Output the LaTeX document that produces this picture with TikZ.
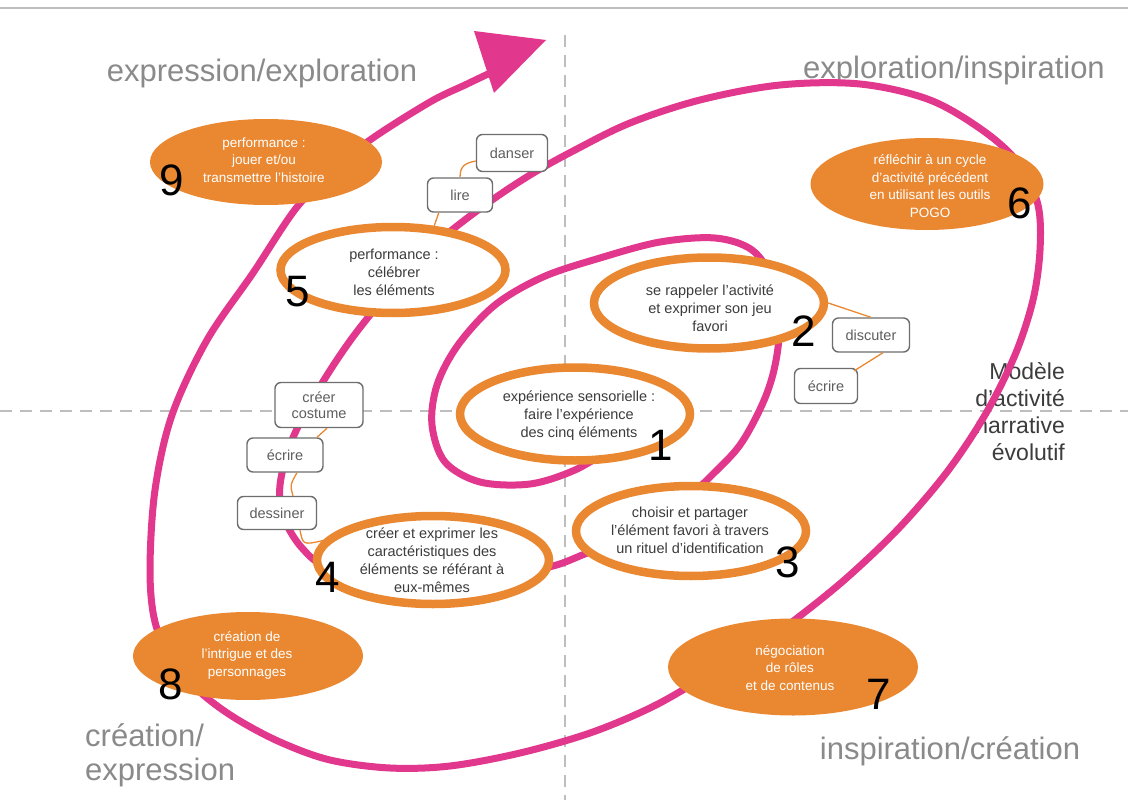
\documentclass[tikz,border=0pt]{standalone}
\usepackage{fontspec}
\setmainfont{Liberation Sans}
\usetikzlibrary{shapes.geometric,calc}
\definecolor{ora}{RGB}{234,136,50}
\definecolor{pnk}{RGB}{225,55,140}
\definecolor{axisg}{RGB}{190,190,190}
\definecolor{labg}{RGB}{138,138,138}
\definecolor{txtg}{RGB}{60,60,60}
\definecolor{boxg}{RGB}{110,110,110}
\tikzset{
 oell/.style={ellipse, draw=ora, line width=8.5pt, fill=white, inner sep=0pt},
 fell/.style={ellipse, fill=ora, inner sep=0pt},
 etext/.style={align=center, text=txtg, font=\fontsize{14.5}{18}\selectfont, inner sep=0pt},
 ftext/.style={align=center, text=white, font=\fontsize{13.5}{17.5}\selectfont, inner sep=0pt},
 tagbox/.style={draw=boxg, line width=1.4pt, rounded corners=6pt, fill=white, align=center, text=boxg!85!black, font=\fontsize{14.5}{15.5}\selectfont, inner sep=0pt},
 oline/.style={draw=ora, line width=1.3pt},
 spiral/.style={draw=pnk, line width=7pt, line cap=round, line join=round},
 quad/.style={text=labg, font=\fontsize{31}{34}\selectfont, inner sep=0pt},
 num/.style={text=black, font=\fontsize{44}{44}\selectfont, inner sep=0pt},
 axisline/.style={draw=axisg, line width=1.5pt, dash pattern=on 12pt off 8pt},
}
\begin{document}
\begin{tikzpicture}[x=1pt,y=-1pt]
\fill[white] (0,0) rectangle (1128,800);
\useasboundingbox (0,0) rectangle (1128,800);
\draw[draw=axisg, line width=1.5pt] (0,8) -- (1128,8);
\draw[axisline] (565,35) -- (565,800);
\draw[axisline] (0,411) -- (1128,411);

\node[align=right, anchor=east, text=txtg, font=\fontsize{23}{27}\selectfont, inner sep=0pt] (model) at (1065,412) {Modèle\\d'activité\\narrative\\évolutif};

\node[quad] (q1) at (262,73) {expression/exploration};
\node[quad] (q2) at (954,70) {exploration/inspiration};
\node[quad, align=left, anchor=west] (q3) at (85,755) {création/\\expression};
\node[quad] (q4) at (950,751) {inspiration/création};

\draw[spiral] plot[smooth, tension=0.55] coordinates {
(612,448) (575,470) (530,484) (480,482) (445,462) (432,425) (437,385) (458,345)
(495,305) (543,277) (600,258) (660,242) (715,238) (752,250) (772,280) (779,330)
(774,370) (762,405) (740,445) (712,475) (680,505) (640,535) (590,552) (553,566)
(500,575) (400,578) (330,568) (302,548) (284,518) (280,485) (292,440) (318,390)
(345,348) (370,315) (400,280) (440,240) (485,205) (530,175) (575,150) (630,123)
(700,100) (780,85) (860,84) (930,100) (985,132) (1020,165) (1038,205) (1040,250)
(1033,300) (1015,355) (985,415) (947,472) (900,527) (850,575) (805,612) (760,645)
(700,680) (650,708) (590,733) (520,753) (450,766) (390,768) (330,760) (280,742)
(235,718) (200,692) (172,660) (155,622) (150,570) (155,490) (172,415) (207,340)
(253,273) (297,207) (335,170) (370,140) (430,102) (465,85) (488,74)};
\fill[pnk] (474,31) -- (546,40) -- (494,93) -- cycle;

\node[oell, minimum width=230pt, minimum height=93pt] (e1) at (575,414) {};
\node[etext] at (579,416) {expérience sensorielle :\\faire l'expérience\\des cinq éléments};
\node[oell, minimum width=230pt, minimum height=91pt] (e2) at (709,303) {};
\node[etext] at (710,308) {se rappeler l'activité\\et exprimer son jeu\\favori};
\node[oell, minimum width=230pt, minimum height=90pt] (e3) at (691,531) {};
\node[etext] at (690,530) {choisir et partager\\l'élément favori à travers\\un rituel d'identification};
\node[oell, minimum width=232pt, minimum height=88pt] (e4) at (433,560) {};
\node[etext] at (432,560) {créer et exprimer les\\caractéristiques des\\éléments se référant à\\eux-mêmes};
\node[oell, minimum width=225pt, minimum height=86pt] (e5) at (393,270) {};
\node[etext] at (394,272) {performance :\\célébrer\\les éléments};

\node[fell, minimum width=233pt, minimum height=92pt] (e6) at (927,184) {};
\node[ftext] at (930,186) {réfléchir à un cycle\\d'activité précédent\\en utilisant les outils\\POGO};
\node[fell, minimum width=250pt, minimum height=97pt] (e7) at (793,667) {};
\node[ftext] at (790,668) {négociation\\de rôles\\et de contenus};
\node[fell, minimum width=230pt, minimum height=88pt] (e8) at (248,656) {};
\node[ftext] at (247,655) {création de\\l'intrigue et des\\personnages};
\node[fell, minimum width=232pt, minimum height=86pt] (e9) at (266,162) {};
\node[ftext] at (264,160) {performance :\\jouer et/ou\\transmettre l'histoire};

\node[tagbox, minimum width=71pt, minimum height=37pt] (danser) at (512,153) {danser};
\node[tagbox, minimum width=65pt, minimum height=34pt] (lire) at (460,195) {lire};
\node[tagbox, minimum width=77pt, minimum height=34pt] (discuter) at (871,335) {discuter};
\node[tagbox, minimum width=63pt, minimum height=35pt] (ecrireR) at (826,386) {écrire};
\node[tagbox, minimum width=88pt, minimum height=45pt] (creer) at (319,405) {créer\\costume};
\node[tagbox, minimum width=76pt, minimum height=34pt] (ecrireL) at (285,455) {écrire};
\node[tagbox, minimum width=79pt, minimum height=33pt] (dessiner) at (277,513) {dessiner};

\draw[oline] (e5.47) -- ($(lire.south west)+(12,0)$);
\draw[oline] (lire.north) .. controls +(0,-12) and +(-10,2) .. ($(danser.west)+(0,8)$);
\draw[oline] (e2.east) -- (discuter.north);
\draw[oline] ($(discuter.south)+(12,0)$) -- ($(ecrireR.north east)+(-4,3)$);
\draw[oline] ($(creer.south)+(8,0)$) -- ($(ecrireL.north)+(32,0)$);
\draw[oline] ($(ecrireL.south)+(12,0)$) .. controls (290,485) .. ($(dessiner.north)+(16,0)$);
\draw[oline] ($(dessiner.south)+(23,0)$) .. controls (303,545) .. (e4.170);

\node[num] (n1) at (661,445) {1};
\node[num] (n2) at (804,331) {2};
\node[num] (n3) at (788,562) {3};
\node[num] (n4) at (328,577) {4};
\node[num] (n5) at (298,292) {5};
\node[num] (n6) at (1020,203) {6};
\node[num] (n7) at (879,694) {7};
\node[num] (n8) at (171,684) {8};
\node[num] (n9) at (172,180) {9};
\end{tikzpicture}
\end{document}
